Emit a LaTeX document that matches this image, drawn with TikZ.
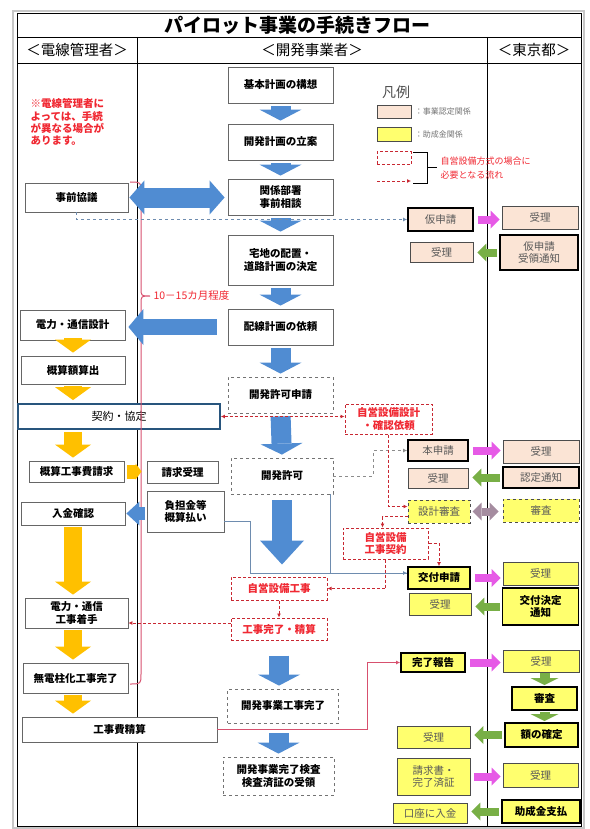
\documentclass[tikz,border=0pt]{standalone}
\usepackage{fontspec}
\setmainfont{Noto Sans CJK JP}
\usepackage{tikz}
\usetikzlibrary{arrows.meta,calc,positioning}
\definecolor{flowblue}{RGB}{80,140,210}
\definecolor{flowgold}{RGB}{255,192,0}
\definecolor{peachfill}{RGB}{251,228,213}
\definecolor{yelfill}{RGB}{255,255,110}
\definecolor{flowpink}{RGB}{230,90,230}
\definecolor{flowgreen}{RGB}{120,175,70}
\definecolor{flowmauve}{RGB}{165,140,160}
\definecolor{flowred}{RGB}{240,40,50}
\definecolor{dashred}{RGB}{200,40,50}
\definecolor{bracepink}{RGB}{215,80,110}
\definecolor{keiyakublue}{RGB}{40,85,125}
\definecolor{lineblue}{RGB}{110,140,175}

\begin{document}
\begin{tikzpicture}[x=1pt,y=-1pt,font=\fontsize{10.5}{12.5}\selectfont,
  box/.style={draw=black!60,fill=white,line width=0.8pt,align=center,inner sep=1pt,font=\fontsize{10.5}{12.5}\selectfont\bfseries},
  sz/.style 2 args={minimum width=#1pt,minimum height=#2pt},
  dbox/.style={box,dashed,draw=black!55},
  rbox/.style={box,dash pattern=on 3pt off 2pt,draw=dashred,line width=1pt,text=flowred},
  pbox/.style={box,fill=peachfill,draw=black!70,text=black!65,font=\fontsize{10.5}{12.5}\selectfont},
  pboxb/.style={pbox,draw=black,line width=1.8pt},
  ybox/.style={box,fill=yelfill,draw=black!70,text=black!65,font=\fontsize{10.5}{12.5}\selectfont},
  yboxb/.style={ybox,draw=black,line width=1.8pt,text=black,font=\fontsize{10.5}{12.5}\selectfont\bfseries},
  yboxd/.style={ybox,dashed,line width=1pt},
  bluedn/.style={draw=flowblue,line width=20pt,-{Triangle[length=11pt,width=42pt,line width=0pt]},shorten <=3pt,shorten >=3pt},
  golddn/.style={draw=flowgold,line width=18pt,-{Triangle[length=13pt,width=36pt,line width=0pt]},shorten <=2pt,shorten >=3pt},
  pinkr/.style={draw=flowpink,line width=8pt,-{Triangle[length=9pt,width=18pt,line width=0pt]},shorten <=4pt,shorten >=2pt},
  greenl/.style={draw=flowgreen,line width=8pt,-{Triangle[length=9pt,width=18pt,line width=0pt]},shorten <=2pt,shorten >=4pt},
  greendn/.style={draw=flowgreen,line width=10pt,-{Triangle[length=7pt,width=28pt,line width=0pt]},shorten <=1pt,shorten >=1pt},
  redflow/.style={draw=dashred,line width=0.9pt,dash pattern=on 3pt off 2pt,-{Latex[length=4pt,width=4pt]}},
  grayline/.style={draw=lineblue,line width=0.9pt,-{Latex[length=4pt,width=4pt]}},
]
\useasboundingbox (0,0) rectangle (589,829);
% Marco y cabeceras
\draw[black!22,line width=2pt] (13,11) rectangle (584,828);
\draw[line width=0.9pt] (17,13) rectangle (581,826);
\draw[line width=0.9pt] (17,37) -- (581,37);
\draw[line width=0.9pt] (17,63) -- (581,63);
\foreach \cx in {137,487}{\draw[line width=0.9pt] (\cx,37) -- (\cx,826);}
\node[font=\fontsize{19}{22}\selectfont\bfseries] (title) at (297,25) {パイロット事業の手続きフロー};
\node[font=\fontsize{14.5}{16}\selectfont] (hdA) at (77,50) {＜電線管理者＞};
\node[font=\fontsize{14.5}{16}\selectfont] (hdB) at (312,50) {＜開発事業者＞};
\node[font=\fontsize{14.5}{16}\selectfont] (hdC) at (534,50) {＜東京都＞};
\node[anchor=north west,align=left,text=flowred,font=\fontsize{10.5}{12.4}\selectfont\bfseries] (note) at (27,95) {※電線管理者に\\よっては、手続\\が異なる場合が\\あります。};

% Leyenda
\node[font=\fontsize{14}{16}\selectfont,text=black!70] (lgT) at (396,92) {凡例};
\node[pbox,sz={34}{13}] (lgP) at (394,111.5) {};
\node[ybox,sz={34}{14}] (lgY) at (394,134) {};
\node[rbox,sz={34}{13}] (lgR) at (394,158.5) {};
\node[anchor=west,font=\fontsize{8}{9}\selectfont,text=black!55] at (lgP.east) {：事業認定関係};
\node[anchor=west,font=\fontsize{8}{9}\selectfont,text=black!55] at (lgY.east) {：助成金関係};
\coordinate (lgA) at (377,181);
\coordinate (lgB) at (411,181);
\draw[redflow] (lgA) -- (lgB);
\draw[line width=0.9pt] (413,152) -- (427,152) -- (427,183) -- (413,183) (427,167) -- (437,167);
\node[anchor=west,align=left,text=flowred,font=\fontsize{9}{14}\selectfont] (lgN) at (437,168) {自営設備方式の場合に\\必要となる流れ};

% Columna izquierda
\node[box,sz={103}{29}] (kyogi) at (76.5,197.5) {事前協議};
\node[box,sz={105}{30}] (sekkei) at (72.5,325) {電力・通信設計};
\node[box,sz={104}{28}] (gaisan) at (73,370) {概算額算出};
\node[box,draw=keiyakublue,line width=1.8pt,sz={202}{25},font=\fontsize{11}{13}\selectfont] (keiyaku) at (119,416.5) {契約・協定};
\node[box,sz={95}{21}] (seikyu) at (76.5,471.5) {概算工事費請求};
\node[box,sz={71}{22}] (juri0) at (182.5,472) {請求受理};
\node[box,sz={104}{23}] (nyukin) at (73,513.5) {入金確認};
\node[box,sz={77}{41}] (futan) at (185.5,511.5) {負担金等\\概算払い};
\node[box,sz={103}{30}] (chakushu) at (76.5,613) {電力・通信\\工事着手};
\node[box,sz={105}{30}] (kanryo0) at (75.5,678) {無電柱化工事完了};
\node[box,sz={195}{25}] (seisan) at (119.5,729.5) {工事費精算};

% Columna central
\node[box,sz={105}{36}] (kihon) at (280.5,85) {基本計画の構想};
\node[box,sz={105}{36}] (ritsuan) at (280.5,142) {開発計画の立案};
\node[box,sz={105}{36}] (soudan) at (280.5,197) {関係部署\\事前相談};
\node[box,sz={105}{50}] (haichi) at (280.5,260) {宅地の配置・\\道路計画の決定};
\node[box,sz={105}{36}] (irai) at (280.5,327) {配線計画の依頼};
\node[dbox,sz={105}{36}] (shinsei) at (280.5,395) {開発許可申請};
\node[dbox,sz={102}{36}] (kyoka) at (282,476) {開発許可};
\node[rbox,sz={96}{23}] (jikouji) at (279,588.5) {自営設備工事};
\node[rbox,sz={96}{22}] (kanseisan) at (279,629) {工事完了・精算};
\node[dbox,sz={111}{34}] (jigyokan) at (283,706) {開発事業工事完了};
\node[dbox,sz={111}{38}] (kensa) at (278.5,776) {開発事業完了検査\\検査済証の受領};
\node[rbox,sz={87}{30}] (jisekkei) at (388.5,419) {自営設備設計\\・確認依頼};
\node[rbox,sz={85}{31}] (jikeiyaku) at (385.5,543.5) {自営設備\\工事契約};

% Solicitudes
\node[pboxb,sz={65}{23}] (kari) at (440.5,219.5) {仮申請};
\node[pbox,sz={63}{20}] (juriA) at (441.5,252) {受理};
\node[pboxb,sz={60}{21}] (hon) at (438,450.5) {本申請};
\node[pbox,sz={60}{20}] (juriB) at (438,478) {受理};
\node[yboxd,sz={62}{23}] (sekkeishinsa) at (439,511.5) {設計審査};
\node[yboxb,sz={62}{22}] (koufu) at (439,578) {交付申請};
\node[ybox,sz={62}{22}] (juriC) at (440,604) {受理};
\node[yboxb,sz={64}{19}] (kanhou) at (433,662.5) {完了報告};
\node[ybox,sz={73}{22}] (juriD) at (433.5,737) {受理};
\node[ybox,sz={73}{37}] (seikyusho) at (433.5,776.5) {請求書・\\完了済証};
\node[ybox,sz={74}{20}] (kouza) at (430,813) {口座に入金};

% Columna derecha
\node[pbox,sz={76}{23}] (juriE) at (540,217.5) {受理};
\node[pboxb,sz={78}{35}] (karitsuchi) at (539,252.5) {仮申請\\受領通知};
\node[pbox,sz={76}{23}] (juriF) at (541,451.5) {受理};
\node[pboxb,sz={76}{21}] (nintei) at (541,477.5) {認定通知};
\node[yboxd,sz={76}{23}] (shinsaT) at (541,510.5) {審査};
\node[ybox,sz={75}{23}] (juriG) at (540.5,573.5) {受理};
\node[yboxb,sz={76}{37}] (kettei) at (540.5,606.5) {交付決定\\通知};
\node[ybox,sz={76}{22}] (juriH) at (541,661) {受理};
\node[yboxb,sz={65}{23}] (shinsaK) at (544.5,698.5) {審査};
\node[yboxb,sz={73}{24}] (gaku) at (541.5,735) {額の確定};
\node[ybox,sz={75}{24}] (juriI) at (540.5,775) {受理};
\node[yboxb,sz={78}{23}] (shiharai) at (541,811.5) {助成金支払};

% Llave 10-15 meses
\draw[bracepink,line width=1pt] (130,182) .. controls (141,182) .. (141,192) -- (141,288)
  .. controls (141,296) .. (150,296) .. controls (141,296) .. (141,304) -- (141,674)
  .. controls (141,684) .. (130,684);
\node[anchor=west,text=flowred,font=\fontsize{10.5}{12}\selectfont] (meses) at (150,296) {10－15カ月程度};

% Flechas gruesas
\foreach \a/\b in {kihon/ritsuan,ritsuan/soudan,soudan/haichi,haichi/irai,irai/shinsei,shinsei/kyoka}
  \draw[bluedn] (\a.south) -- (\b.north);
\draw[bluedn,-{Triangle[length=24pt,width=44pt,line width=0pt]},shorten <=6pt,shorten >=12pt] (kyoka.south) -- (kyoka.south |- jikouji.north);
\draw[bluedn,shorten <=15pt] (kanseisan.south) -- (jigyokan.north -| kanseisan);
\draw[bluedn,shorten <=10pt] (jigyokan.south -| kensa) -- (kensa.north);
\draw[bluedn,{Triangle[length=15pt,width=34pt,line width=0pt]}-{Triangle[length=15pt,width=34pt,line width=0pt]},shorten <=1pt] (kyogi.east) -- (kyogi.east -| soudan.west);
\draw[bluedn,line width=16pt,-{Triangle[length=15pt,width=36pt,line width=0pt]},shorten <=11pt] (irai.west) -- (irai.west -| sekkei.east);
\draw[bluedn,line width=13pt,-{Triangle[length=13pt,width=24pt,line width=0pt]},shorten <=2pt,shorten >=1pt] (futan.west |- nyukin) -- (nyukin.east);
\foreach \a/\b in {sekkei/gaisan,gaisan/keiyaku,keiyaku/seikyu,nyukin/chakushu,chakushu/kanryo0,kanryo0/seisan}
  \draw[golddn] (\a.south -| nyukin) -- (\b.north -| nyukin);
\draw[golddn,line width=14pt,-{Triangle[length=6pt,width=16pt,line width=0pt]},shorten <=3pt,shorten >=5pt] (seikyu.east) -- (seikyu.east -| juri0.west);

\foreach \a/\b in {kari/juriE,hon/juriF,koufu/juriG,kanhou/juriH,seikyusho/juriI}
  \draw[pinkr] (\a.east) -- (\a.east -| \b.west);
\foreach \a/\b in {karitsuchi/juriA,nintei/juriB,kettei/juriC,gaku/juriD,shiharai/kouza}
  \draw[greenl] (\a.west) -- (\a.west -| \b.east);
\draw[greenl,draw=flowmauve,{Triangle[length=9pt,width=18pt,line width=0pt]}-{Triangle[length=9pt,width=18pt,line width=0pt]},shorten <=2pt] (sekkeishinsa.east) -- (sekkeishinsa.east -| shinsaT.west);
\draw[greendn] (juriH.south -| shinsaK) -- (shinsaK.north);
\draw[greendn] (shinsaK.south) -- (shinsaK.south |- gaku.north);

% Conectores finos
\draw[grayline,dashed] (kyogi.south) |- (kari.west);
\draw[grayline,draw=black!45,dashed] (kyoka.east) -- ++(40,0) |- (hon.west);
\draw[grayline] ([yshift=-10pt]futan.east) -- ++(26,0) |- ([yshift=5pt]koufu.west);
\draw[grayline,-] ([xshift=-3pt]kyoka.south east) |- ([yshift=5pt]koufu.west);
\draw[redflow,{Latex[length=4pt,width=4pt]}-{Latex[length=4pt,width=4pt]}] (keiyaku.east) -- (keiyaku.east -| jisekkei.west);
\draw[redflow] (jisekkei.south) |- ([yshift=5pt]sekkeishinsa.west);
\draw[redflow] ([yshift=-5pt]sekkeishinsa.west) -| ([xshift=-3pt]jikeiyaku.north);
\draw[redflow] (jikeiyaku.east) -| (koufu.north);
\draw[redflow] (jikeiyaku.south) |- (jikouji.east);
\draw[redflow] (jikouji.south) -- (kanseisan.north);
\draw[redflow] ([yshift=6pt]kanseisan.west) -- ([yshift=6pt]kanseisan.west -| chakushu.east);
\draw[grayline,draw=bracepink] (seisan.east) -- ++(150,0) |- (kanhou.west);
\end{tikzpicture}
\end{document}
